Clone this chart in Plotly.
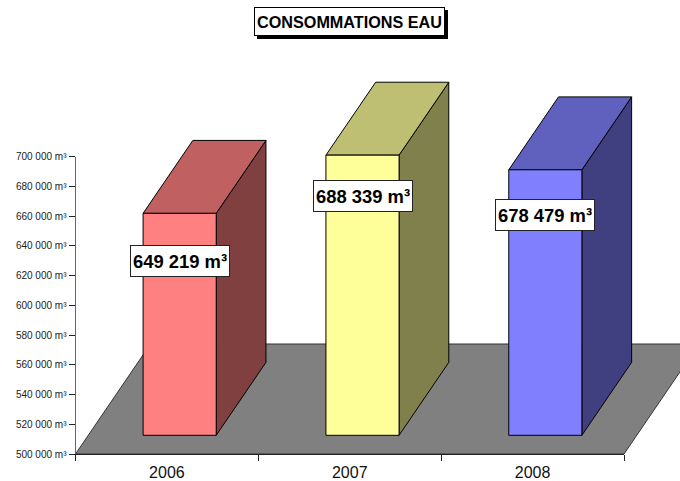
import plotly.graph_objects as go

# Donnees
years = ["2006", "2007", "2008"]
volumes = [649219, 688339, 678479]
value_labels = ["649 219 m³", "688 339 m³", "678 479 m³"]
tick_values = [500000, 520000, 540000, 560000, 580000, 600000, 620000, 640000, 660000, 680000, 700000]
tick_labels = ["500 000 m³", "520 000 m³", "540 000 m³", "560 000 m³", "580 000 m³", "600 000 m³",
               "620 000 m³", "640 000 m³", "660 000 m³", "680 000 m³", "700 000 m³"]
front_colors = ["#FF8080", "#FFFF99", "#8080FF"]
top_colors = ["#C06060", "#BFBF73", "#6060BF"]
side_colors = ["#804040", "#80804D", "#404080"]
label_shifts = [-47.5, -41, -45]

W, H = 680, 481
# position des axes dans la page (pixels)
AX_LEFT, AX_RIGHT, AX_TOP, AX_BOTTOM = 75.5, 624.0, 156.5, 454.0
Y_MIN, Y_MAX = tick_values[0], tick_values[-1]

px_per_cat = (AX_RIGHT - AX_LEFT) / len(years)
val_per_px = (Y_MAX - Y_MIN) / (AX_BOTTOM - AX_TOP)

# effet 3D : profondeur du sol
depth_x = 75 / px_per_cat
depth_y = 110 * val_per_px
bar_width = 0.40
bar_start = 0.17  # debut de la barre dans la profondeur
bar_depth = 0.663
lift_x = bar_start * depth_x
lift_y = bar_start * depth_y


def quad(xs, ys, fill, line="#000000"):
    return go.Scatter(x=xs + xs[:1], y=ys + ys[:1], mode="lines", fill="toself",
                      fillcolor=fill, line=dict(color=line, width=1),
                      hoverinfo="skip", showlegend=False)


fig = go.Figure()

# sol
fig.add_trace(quad([-0.5, 2.5, 2.5 + depth_x, -0.5 + depth_x],
                   [Y_MIN, Y_MIN, Y_MIN + depth_y, Y_MIN + depth_y], "#808080", "#333333"))

# barres
for i, v in enumerate(volumes):
    x0 = i + lift_x - bar_width / 2
    x1 = i + lift_x + bar_width / 2
    y0 = Y_MIN + lift_y
    y1 = v + lift_y
    dx = bar_depth * depth_x
    dy = bar_depth * depth_y
    fig.add_trace(quad([x1, x1 + dx, x1 + dx, x1], [y0, y0 + dy, y1 + dy, y1], side_colors[i]))
    fig.add_trace(quad([x0, x1, x1 + dx, x0 + dx], [y1, y1, y1 + dy, y1 + dy], top_colors[i]))
    fig.add_trace(quad([x0, x1, x1, x0], [y0, y0, y1, y1], front_colors[i]))
    fig.add_annotation(x=i + lift_x, y=v + lift_y, xref="x", yref="y", yshift=label_shifts[i],
                       xanchor="center", yanchor="middle",
                       text="<b>" + value_labels[i] + "</b>", showarrow=False, bgcolor="white",
                       bordercolor="#222222", borderwidth=1, borderpad=0, width=98, height=30,
                       font=dict(family="Liberation Sans", size=18.4, color="black"))

# trace vide pour les vrais axes
fig.add_trace(go.Scatter(x=years, y=volumes, mode="none", xaxis="x2", yaxis="y2",
                         hoverinfo="skip", showlegend=False))

# cadre du titre avec ombre
fig.add_shape(type="rect", xref="paper", yref="paper", x0=257 / W, x1=448 / W,
              y0=1 - 39 / H, y1=1 - 10 / H, fillcolor="black", line=dict(width=0))
fig.add_annotation(x=349.5 / W, y=1 - 21.7 / H, xref="paper", yref="paper",
                   xanchor="center", yanchor="middle",
                   text="<b>CONSOMMATIONS EAU</b>", showarrow=False, bgcolor="white",
                   bordercolor="black", borderwidth=1, borderpad=0, width=189, height=27,
                   font=dict(family="Liberation Sans", size=16.2, color="black"))

fig.update_layout(
    width=W, height=H,
    margin=dict(l=0, r=0, t=0, b=0),
    paper_bgcolor="white",
    plot_bgcolor="rgba(0,0,0,0)",
    font=dict(family="Liberation Sans", color="#111111"),
    # axes des formes : toute la page, meme echelle que les vrais axes
    xaxis=dict(domain=[0, 1], visible=False, fixedrange=True, automargin=False,
               range=[-0.5 - AX_LEFT / px_per_cat, -0.5 + (W - AX_LEFT) / px_per_cat]),
    yaxis=dict(domain=[0, 1], visible=False, fixedrange=True, automargin=False,
               range=[Y_MIN - (H - AX_BOTTOM) * val_per_px, Y_MIN + AX_BOTTOM * val_per_px]),
    # vrais axes
    xaxis2=dict(domain=[AX_LEFT / W, AX_RIGHT / W], anchor="y2", type="category",
                categoryorder="array", categoryarray=years, range=[-0.5, 2.5],
                tickson="boundaries", ticks="outside", ticklen=6, tickcolor="#222222",
                showline=True, linecolor="#222222", linewidth=1, showgrid=False, zeroline=False,
                tickfont=dict(size=16, color="#111111"), fixedrange=True, automargin=False,
                ticklabelstandoff=4),
    yaxis2=dict(domain=[1 - AX_BOTTOM / H, 1 - AX_TOP / H], anchor="x2", range=[Y_MIN, Y_MAX],
                tickvals=tick_values, ticktext=tick_labels, ticks="outside", ticklen=6,
                tickcolor="#222222", showline=True, linecolor="#666666", linewidth=1,
                showgrid=False, zeroline=False, tickfont=dict(size=10, color="#222222"),
                fixedrange=True, automargin=False),
)

# la page ne doit pas avoir de marge autour du graphique
fig.write_html("out.html", config=dict(displayModeBar=False),
               post_script="document.body.style.margin='0';")
